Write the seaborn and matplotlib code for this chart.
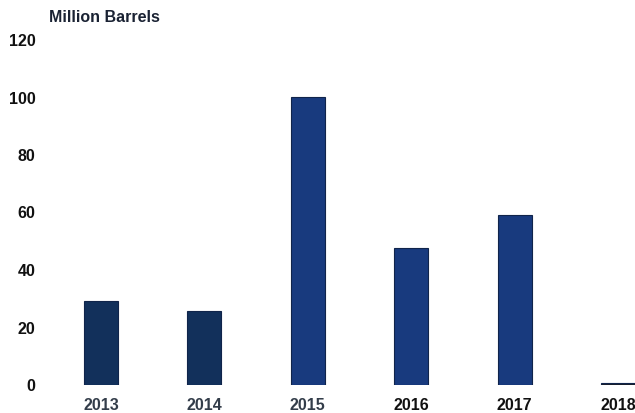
import matplotlib
matplotlib.use("Agg")
import matplotlib.pyplot as plt
import seaborn as sns
import pandas as pd

years = ["2013", "2014", "2015", "2016", "2017", "2018"]
values = [29.2, 25.8, 100.3, 47.8, 59.0, 0.7]
bar_colors = ["#12305b", "#12305b", "#183a7e", "#183a7e", "#183a7e", "#1a1f2b"]
yticks = [0, 20, 40, 60, 80, 100, 120]

sns.set_theme(style="white")
plt.rcParams["font.family"] = ["Liberation Sans", "DejaVu Sans"]

df = pd.DataFrame({"year": years, "value": values})

fig = plt.figure(figsize=(6.35, 4.13), dpi=100)
ax = fig.add_axes([45 / 635, (413 - 385) / 413, (635 - 45) / 635, (385 - 40) / 413])

sns.barplot(data=df, x="year", y="value", hue="year", palette=bar_colors,
            legend=False, width=0.33, ax=ax, saturation=1, linewidth=0.8,
            edgecolor="#10244a")

ax.set_xlim((45 - 101) / 103.4, (635 - 101) / 103.4)
ax.set_ylim(0, 120)
ax.set_yticks(yticks)
ax.set_yticklabels([str(t) for t in yticks], fontsize=11.5, fontweight="bold", color="#111111")
ax.tick_params(axis="y", length=0, pad=7)
ax.tick_params(axis="x", length=0, pad=9)
for lbl, c in zip(ax.get_xticklabels(), ["#333d4a"] * 3 + ["#111111"] * 3):
    lbl.set_fontsize(11.5)
    lbl.set_fontweight("bold")
    lbl.set_color(c)

ax.set_xlabel("")
ax.set_ylabel("")
for s in ax.spines.values():
    s.set_visible(False)

fig.text(49 / 635, 1 - 18 / 413, "Million Barrels", fontsize=11.5, fontweight="bold",
         color="#1a2233", va="center", ha="left")

fig.savefig("out.png", dpi=100)
